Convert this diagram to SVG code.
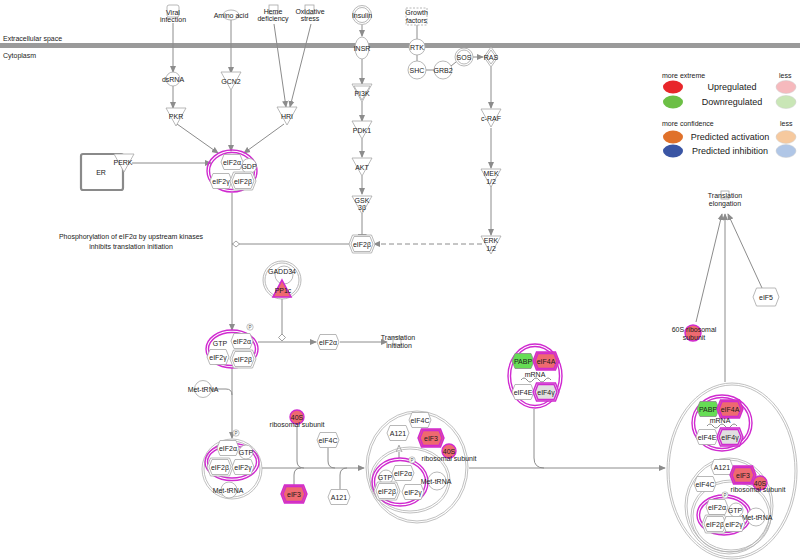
<svg xmlns="http://www.w3.org/2000/svg" xmlns:xlink="http://www.w3.org/1999/xlink" width="800" height="560" viewBox="0 0 800 560">
<style>
.t{font-family:"Liberation Sans",Arial,sans-serif;font-size:7px;fill:#1a1a1a;text-anchor:middle}
.tl{font-family:"Liberation Sans",Arial,sans-serif;font-size:7px;fill:#1a1a1a}
.lg{font-family:"Liberation Sans",Arial,sans-serif;font-size:9px;fill:#1a1a1a;text-anchor:middle}
.lgs{font-family:"Liberation Sans",Arial,sans-serif;font-size:7px;fill:#1a1a1a}
.ln{fill:none;stroke:#8c8c8c;stroke-width:1}
.nd{fill:#fff;stroke:#a6a6a6;stroke-width:0.8}
.ndn{fill:none;stroke:#a6a6a6;stroke-width:0.8}
.cx{fill:none;stroke:#b0b0b0;stroke-width:0.8}
.mg{fill:none;stroke:#d02ad0;stroke-width:1.4}
.up{fill:#ee6a70;stroke:#d02ad0;stroke-width:1.4}
.gr{fill:#e0e0e0;stroke:#d02ad0;stroke-width:1.4}
.dn{fill:#66dd55;stroke:#8a8a8a;stroke-width:0.8}
.p{font-family:"Liberation Sans",Arial,sans-serif;font-size:4.5px;fill:#555;text-anchor:middle}
</style>
<defs>
<path id="hx" d="M-8,-7.5H8L11,0L8,7.5H-8L-11,0Z"/>
<path id="hxo" d="M-9.5,-9H9.5L13,0L9.5,9H-9.5L-13,0Z"/>
<path id="tri" d="M-10,-9H10L0,9Z"/>
<path id="trs" d="M-8,-7H8L0,7Z"/>
<marker id="ar" viewBox="0 0 8 8" refX="7" refY="4" markerWidth="7" markerHeight="7" markerUnits="userSpaceOnUse" orient="auto"><path d="M0,0.5L8,4L0,7.5Z" fill="#8c8c8c"/></marker>
<marker id="tb" viewBox="0 0 2 10" refX="1" refY="5" markerWidth="2" markerHeight="9" markerUnits="userSpaceOnUse" orient="auto"><rect x="0" y="0" width="2" height="10" fill="#8c8c8c"/></marker>
<marker id="oa" viewBox="0 0 8 8" refX="7" refY="4" markerWidth="7" markerHeight="7" markerUnits="userSpaceOnUse" orient="auto"><path d="M0,0.5L8,4L0,7.5Z" fill="#fff" stroke="#8c8c8c" stroke-width="0.8"/></marker>
</defs>
<rect width="800" height="560" fill="#fff"/>

<!-- membrane -->
<rect x="0" y="43" width="800" height="5" fill="#9a9a9a"/>
<text class="tl" x="3" y="40.5">Extracellular space</text>
<text class="tl" x="3" y="58">Cytoplasm</text>

<!-- legend -->
<g id="legend">
<text class="lgs" x="662" y="78">more extreme</text><text class="lgs" x="779" y="78">less</text>
<ellipse cx="673" cy="87" rx="10" ry="6.5" fill="#e8262a"/><text class="lg" x="732" y="90">Upregulated</text><ellipse cx="786" cy="87" rx="10" ry="6.5" fill="#f6b9bd" stroke="#ccc" stroke-width="0.5"/>
<ellipse cx="673" cy="102" rx="10" ry="6.5" fill="#6cbf45"/><text class="lg" x="732" y="105">Downregulated</text><ellipse cx="786" cy="102" rx="10" ry="6.5" fill="#c9e6b6" stroke="#ccc" stroke-width="0.5"/>
<text class="lgs" x="662" y="126">more confidence</text><text class="lgs" x="780" y="126">less</text>
<ellipse cx="673" cy="137" rx="10" ry="6.5" fill="#e0712a"/><text class="lg" x="730" y="140">Predicted activation</text><ellipse cx="786" cy="137" rx="10" ry="6.5" fill="#f6c99e" stroke="#ccc" stroke-width="0.5"/>
<ellipse cx="673" cy="151" rx="10" ry="6.5" fill="#3a55a4"/><text class="lg" x="730" y="154">Predicted inhibition</text><ellipse cx="786" cy="151" rx="10" ry="6.5" fill="#b0c6e6" stroke="#ccc" stroke-width="0.5"/>
</g>

<!-- connectors -->
<g id="connectors">
<path class="ln" d="M173,23V72" marker-end="url(#ar)"/>
<path class="ln" d="M173,86V108" marker-end="url(#ar)"/>
<path class="ln" d="M231,20V73" marker-end="url(#ar)"/>
<path class="ln" d="M231,90V151" marker-end="url(#ar)"/>
<path class="ln" d="M274,24L286,107" marker-end="url(#ar)"/>
<path class="ln" d="M311,24L290,107" marker-end="url(#ar)"/>
<path class="ln" d="M177,124L218,153" marker-end="url(#ar)"/>
<path class="ln" d="M284,124L244,153" marker-end="url(#ar)"/>
<path class="ln" d="M132,163H211" marker-end="url(#ar)"/>
<path class="ln" d="M362,25V36" marker-end="url(#ar)"/>
<path class="ln" d="M362,59V84" marker-end="url(#ar)"/>
<path class="ln" d="M362,102V121" marker-end="url(#ar)"/>
<path class="ln" d="M362,139V157" marker-end="url(#ar)"/>
<path class="ln" d="M362,176V194" marker-end="url(#ar)"/>
<path class="ln" d="M362,214V235" marker-end="url(#tb)"/>
<path class="ln" d="M417,25V39"/>
<path class="ln" d="M417,55V61"/>
<path class="ln" d="M426,70H434"/>
<path class="ln" d="M451,66L456,62"/>
<path class="ln" d="M473,57H483" marker-end="url(#ar)"/>
<path class="ln" d="M491,67V108" marker-end="url(#ar)"/>
<path class="ln" d="M491,128V168" marker-end="url(#ar)"/>
<path class="ln" d="M491,186V235" marker-end="url(#ar)"/>
<path class="ln" d="M482,244H374" stroke-dasharray="5,3" marker-end="url(#ar)"/>
<path class="ln" d="M350,244H232"/>
<path d="M236,241L239.5,244L236,247L232.5,244Z" fill="#fff" stroke="#8c8c8c" stroke-width="0.8"/>
<path class="ln" d="M232,193V330" marker-end="url(#ar)"/>
<path class="ln" d="M258,342H316" marker-end="url(#ar)"/>
<path class="ln" d="M282,299V338"/>
<path d="M282,334L285.5,337.5L282,341L278.5,337.5Z" fill="#fff" stroke="#8c8c8c" stroke-width="0.8"/>
<path class="ln" d="M340,342H387" marker-end="url(#ar)"/>
<path class="ln" d="M232,368V438" marker-end="url(#ar)"/>
<path class="ln" d="M212,389H226Q232,389 232,395"/>
<path class="ln" d="M262,468H364" marker-end="url(#ar)"/>
<path class="ln" d="M297,426V461Q297,468 304,468"/>
<path class="ln" d="M294,485V475Q294,468 301,468"/>
<path class="ln" d="M328,448V461Q328,468 335,468"/>
<path class="ln" d="M340,489V475Q340,468 347,468"/>
<path class="ln" d="M469,468H665" marker-end="url(#ar)"/>
<path class="ln" d="M534,409V458Q534,468 544,468"/>
<path class="ln" d="M725,382V214" marker-end="url(#ar)"/>
<path class="ln" d="M696,322L722,214" marker-end="url(#ar)"/>
<path class="ln" d="M762,288L728,214" marker-end="url(#ar)"/>
<path class="ln" d="M399,458V446" marker-end="url(#oa)"/>
</g>

<!-- top inputs -->
<g id="viral"><rect class="ndn" x="167" y="5" width="12" height="12" rx="2"/><text class="t" x="173" y="15">Viral</text><text class="t" x="173" y="22">infection</text></g>
<g id="amino"><ellipse class="ndn" cx="231" cy="15" rx="8" ry="5"/><text class="t" x="231" y="17.5">Amino acid</text></g>
<g id="heme"><rect class="ndn" x="269" y="5" width="9" height="9"/><text class="t" x="273" y="14">Heme</text><text class="t" x="273" y="21">deficiency</text></g>
<g id="oxid"><rect class="ndn" x="305" y="5" width="9" height="9"/><text class="t" x="310" y="14">Oxidative</text><text class="t" x="310" y="21">stress</text></g>
<g id="insulin"><circle class="nd" cx="362" cy="15" r="9.5"/><circle class="ndn" cx="362" cy="15" r="7.5"/><text class="t" x="362" y="17.5">Insulin</text></g>
<g id="growth"><rect class="nd" x="406" y="8" width="21" height="17" stroke-dasharray="2,1.5"/><text class="t" x="416.5" y="15">Growth</text><text class="t" x="416.5" y="22.5">factors</text></g>

<!-- kinases / signalling -->
<g id="dsRNA"><circle class="nd" cx="173" cy="79" r="7"/><text class="t" x="173" y="81.5">dsRNA</text></g>
<g id="PKR"><use href="#tri" x="176" y="117" class="nd"/><text class="t" x="176" y="119">PKR</text></g>
<g id="GCN2"><use href="#tri" x="231" y="81" class="nd"/><text class="t" x="231" y="83.5">GCN2</text></g>
<g id="HRI"><use href="#tri" x="287" y="116" class="nd"/><text class="t" x="287" y="119">HRI</text></g>
<g id="ER"><rect x="81" y="154" width="42" height="36" rx="2" fill="#fff" stroke="#8a8a8a" stroke-width="2.2"/><text class="t" x="101" y="175">ER</text></g>
<g id="PERK"><use href="#tri" x="124" y="163" class="nd"/><text class="t" x="123" y="165">PERK</text></g>
<g id="INSR"><ellipse class="nd" cx="362" cy="48" rx="7" ry="11"/><text class="t" x="362" y="50.5">INSR</text></g>
<g id="PI3K"><use href="#tri" x="362" y="93" class="nd"/><use href="#trs" x="362" y="93" class="ndn"/><text class="t" x="362" y="95.5">PI3K</text></g>
<g id="PDK1"><use href="#tri" x="362" y="130" class="nd"/><text class="t" x="362" y="132.5">PDK1</text></g>
<g id="AKT"><use href="#tri" x="362" y="167" class="nd"/><text class="t" x="362" y="169.5">AKT</text></g>
<g id="GSK3B"><use href="#tri" x="362" y="205" class="nd"/><text class="t" x="362" y="203">GSK</text><text class="t" x="362" y="210">3β</text></g>
<g id="RTK"><circle class="nd" cx="417" cy="47" r="8"/><text class="t" x="417" y="49.5">RTK</text></g>
<g id="SHC"><circle class="nd" cx="417" cy="70" r="9"/><text class="t" x="417" y="72.5">SHC</text></g>
<g id="GRB2"><circle class="nd" cx="443" cy="70" r="9"/><text class="t" x="443" y="72.5">GRB2</text></g>
<g id="SOS"><circle class="nd" cx="464" cy="57" r="9"/><circle class="ndn" cx="464" cy="57" r="7"/><text class="t" x="464" y="59.5">SOS</text></g>
<g id="RAS"><path class="nd" d="M491,47L498,57L491,67L484,57Z"/><path class="ndn" d="M491,50L496,57L491,64L486,57Z"/><text class="t" x="491" y="59.5">RAS</text></g>
<g id="cRAF"><use href="#tri" x="491" y="118" class="nd"/><text class="t" x="491" y="120.5">c-RAF</text></g>
<g id="MEK"><use href="#tri" x="491" y="178" class="nd"/><text class="t" x="491" y="176">MEK</text><text class="t" x="491" y="183.5">1/2</text></g>
<g id="ERK"><use href="#tri" x="491" y="245" class="nd"/><text class="t" x="491" y="243">ERK</text><text class="t" x="491" y="250.5">1/2</text></g>
<g id="eIF2B"><use href="#hxo" x="362" y="244" class="nd"/><use href="#hx" x="362" y="244" class="ndn"/><text class="t" x="362" y="246.5">eIF2β</text></g>

<text class="t" x="131" y="239">Phosphorylation of eIF2α by upstream kinases</text>
<text class="t" x="131" y="249">inhibits translation initiation</text>

<!-- eIF2-GDP complex -->
<g id="eIF2GDP">
<ellipse class="mg" cx="232" cy="171" rx="25" ry="21"/><ellipse class="mg" cx="232" cy="171" rx="22.5" ry="18.5"/>
<circle class="nd" cx="249" cy="166" r="7.5"/><text class="t" x="249" y="168.5">GDP</text>
<use href="#hx" x="232" y="162" class="nd"/><text class="t" x="232" y="164.5">eIF2α</text>
<use href="#hx" x="221" y="181" class="nd"/><text class="t" x="221" y="183.5">eIF2γ</text>
<use href="#hxo" x="243" y="181" class="nd"/><use href="#hx" x="243" y="181" class="ndn"/><text class="t" x="243" y="183.5">eIF2β</text>
</g>

<!-- GADD34/PP1c -->
<g id="GADD34">
<circle class="nd" cx="282" cy="280" r="19"/><circle class="ndn" cx="282" cy="280" r="17"/>
<circle class="ndn" cx="284" cy="275" r="9"/>
<text class="t" x="282" y="274">GADD34</text>
<path d="M282,280L291,297H273Z" fill="#ee6a70" stroke="#d02ad0" stroke-width="1.6"/>
<text class="t" x="283" y="293">PP1c</text>
</g>

<g id="eIF2A"><use href="#hx" x="328" y="342" class="nd"/><text class="t" x="328" y="344.5">eIF2α</text></g>
<g id="TI"><rect class="ndn" x="393" y="337" width="8" height="8"/><text class="t" x="398" y="340">Translation</text><text class="t" x="399" y="347.5">initiation</text></g>

<!-- eIF2-GTP complex -->
<g id="eIF2GTP">
<ellipse class="mg" cx="232" cy="349" rx="26" ry="19"/><ellipse class="mg" cx="232" cy="349" rx="23.5" ry="16.5"/>
<text class="t" x="220" y="345.5">GTP</text>
<use href="#hx" x="242" y="341" class="nd"/><text class="t" x="242" y="343.5">eIF2α</text>
<use href="#hx" x="218" y="357" class="nd"/><text class="t" x="218" y="359.5">eIF2γ</text>
<use href="#hxo" x="243" y="359" class="nd"/><use href="#hx" x="243" y="359" class="ndn"/><text class="t" x="243" y="361.5">eIF2β</text>
<circle cx="250" cy="327" r="3.2" fill="#fff" stroke="#999" stroke-width="0.6"/><text class="p" x="250" y="328.7">P</text>
</g>

<g id="MettRNA"><circle class="nd" cx="203" cy="389" r="8.5"/><text class="t" x="203" y="391.5">Met-tRNA</text></g>

<!-- ternary complex -->
<g id="ternary">
<circle class="cx" cx="232" cy="469" r="30"/><circle class="cx" cx="232" cy="469" r="28"/>
<ellipse class="mg" cx="232" cy="462" rx="27" ry="18.5"/><ellipse class="mg" cx="232" cy="462" rx="24.5" ry="16"/>
<circle class="nd" cx="229" cy="490" r="8"/><text class="t" x="228" y="492.5">Met-tRNA</text>
<circle class="nd" cx="246" cy="452" r="7"/><text class="t" x="246" y="454.5">GTP</text>
<use href="#hx" x="228" y="448" class="nd"/><text class="t" x="228" y="450.5">eIF2α</text>
<use href="#hxo" x="220" y="467" class="nd"/><use href="#hx" x="220" y="467" class="ndn"/><text class="t" x="220" y="469.5">eIF2β</text>
<use href="#hx" x="243" y="467" class="nd"/><text class="t" x="243" y="469.5">eIF2γ</text>
<circle cx="236" cy="433" r="3.2" fill="#fff" stroke="#999" stroke-width="0.6"/><text class="p" x="236" y="434.7">P</text>
</g>

<g id="r40S"><circle class="up" cx="297" cy="417" r="7"/><text class="t" x="297" y="419.5">40S</text><text class="t" x="297" y="427">ribosomal subunit</text></g>
<g id="eIF4C"><use href="#hx" x="328" y="440" class="nd"/><text class="t" x="328" y="442.5">eIF4C</text></g>
<g id="eIF3"><use href="#hxo" x="294" y="494" class="up"/><use href="#hx" x="294" y="494" class="mg"/><text class="t" x="294" y="496.5">eIF3</text></g>
<g id="A121"><use href="#hx" x="339" y="497" class="nd"/><text class="t" x="339" y="499.5">A121</text></g>

<!-- 43S complex -->
<g id="c43S">
<ellipse class="cx" cx="417" cy="467" rx="51" ry="56"/><ellipse class="cx" cx="417" cy="467" rx="49" ry="54"/>
<ellipse class="cx" cx="410" cy="480" rx="40" ry="33"/><ellipse class="cx" cx="410" cy="480" rx="38" ry="31"/>
<ellipse class="mg" cx="400" cy="482" rx="28" ry="24"/><ellipse class="mg" cx="400" cy="482" rx="25.5" ry="21.5"/>
<use href="#hx" x="420" y="420" class="nd"/><text class="t" x="420" y="422.5">eIF4C</text>
<use href="#hx" x="398" y="433" class="nd"/><text class="t" x="398" y="435.5">A121</text>
<use href="#hxo" x="431" y="438" class="up"/><use href="#hx" x="431" y="438" class="mg"/><text class="t" x="431" y="440.5">eIF3</text>
<circle class="up" cx="449" cy="451" r="7"/><text class="t" x="449" y="453.5">40S</text><text class="t" x="449" y="461">ribosomal subunit</text>
<circle class="nd" cx="437" cy="481" r="9"/><text class="t" x="436" y="483.5">Met-tRNA</text>
<circle class="nd" cx="386" cy="477" r="7"/><text class="t" x="385" y="479.5">GTP</text>
<use href="#hx" x="403" y="473" class="nd"/><text class="t" x="403" y="475.5">eIF2α</text>
<use href="#hxo" x="387" y="491" class="nd"/><use href="#hx" x="387" y="491" class="ndn"/><text class="t" x="387" y="493.5">eIF2β</text>
<use href="#hx" x="413" y="492" class="nd"/><text class="t" x="413" y="494.5">eIF2γ</text>
<circle cx="412" cy="460" r="3.2" fill="#fff" stroke="#999" stroke-width="0.6"/><text class="p" x="412" y="461.7">P</text>
</g>

<!-- eIF4F/mRNA complex -->
<g id="c4F">
<ellipse class="mg" cx="535" cy="376" rx="27" ry="32"/><ellipse class="mg" cx="535" cy="376" rx="24.5" ry="29.5"/>
<path class="ln" d="M521,380q3,-4 6,0t6,0t6,0t6,0t6,0" stroke="#aaa"/>
<use href="#hx" x="523" y="361" class="dn"/><text class="t" x="523" y="363.5">PABP</text>
<use href="#hxo" x="546" y="361" class="up"/><use href="#hx" x="546" y="361" class="mg"/><text class="t" x="546" y="363.5">eIF4A</text>
<text class="t" x="535" y="377">mRNA</text>
<use href="#hx" x="523" y="392" class="nd"/><text class="t" x="523" y="394.5">eIF4E</text>
<use href="#hxo" x="546" y="392" class="gr"/><use href="#hx" x="546" y="392" class="mg"/><text class="t" x="546" y="394.5">eIF4γ</text>
</g>

<!-- 48S complex -->
<g id="c48S">
<ellipse class="cx" cx="732" cy="471" rx="65" ry="88"/><ellipse class="cx" cx="732" cy="471" rx="63" ry="86"/>
<ellipse class="mg" cx="722" cy="423" rx="30" ry="28"/><ellipse class="mg" cx="722" cy="423" rx="27.5" ry="25.5"/>
<path class="ln" d="M707,426q3,-4 6,0t6,0t6,0t6,0t6,0" stroke="#aaa"/>
<use href="#hx" x="708" y="409" class="dn"/><text class="t" x="708" y="411.5">PABP</text>
<use href="#hxo" x="730" y="409" class="up"/><use href="#hx" x="730" y="409" class="mg"/><text class="t" x="730" y="411.5">eIF4A</text>
<text class="t" x="720" y="423">mRNA</text>
<use href="#hx" x="707" y="437" class="nd"/><text class="t" x="707" y="439.5">eIF4E</text>
<use href="#hxo" x="730" y="437" class="gr"/><use href="#hx" x="730" y="437" class="mg"/><text class="t" x="730" y="439.5">eIF4γ</text>
<ellipse class="cx" cx="729" cy="506" rx="44" ry="48"/><ellipse class="cx" cx="729" cy="506" rx="42" ry="46"/>
<ellipse class="cx" cx="731" cy="516" rx="40" ry="36"/><ellipse class="cx" cx="731" cy="516" rx="38" ry="34"/>
<ellipse class="mg" cx="724" cy="515" rx="27" ry="20"/><ellipse class="mg" cx="724" cy="515" rx="24.5" ry="17.5"/>
<use href="#hx" x="722" y="467" class="nd"/><text class="t" x="722" y="469.5">A121</text>
<use href="#hxo" x="743" y="475" class="up"/><use href="#hx" x="743" y="475" class="mg"/><text class="t" x="743" y="477.5">eIF3</text>
<circle class="up" cx="760" cy="483" r="7"/><text class="t" x="760" y="485.5">40S</text><text class="t" x="758" y="492">ribosomal subunit</text>
<use href="#hx" x="705" y="484" class="nd"/><text class="t" x="705" y="486.5">eIF4C</text>
<circle cx="725" cy="495" r="3.2" fill="#fff" stroke="#999" stroke-width="0.6"/><text class="p" x="725" y="496.7">P</text>
<circle class="nd" cx="756" cy="517" r="9"/><text class="t" x="757" y="519.5">Met-tRNA</text>
<use href="#hx" x="717" y="507" class="nd"/><text class="t" x="717" y="509.5">eIF2α</text>
<circle class="nd" cx="736" cy="510" r="7"/><text class="t" x="735" y="512.5">GTP</text>
<use href="#hxo" x="715" y="524" class="nd"/><use href="#hx" x="715" y="524" class="ndn"/><text class="t" x="715" y="526.5">eIF2β</text>
<use href="#hx" x="734" y="524" class="nd"/><text class="t" x="734" y="526.5">eIF2γ</text>
</g>

<g id="TE"><rect class="ndn" x="721" y="191" width="8" height="8"/><text class="t" x="725" y="198">Translation</text><text class="t" x="725" y="205.5">elongation</text></g>
<g id="eIF5"><use href="#hxo" x="766" y="297" class="nd"/><text class="t" x="766" y="299.5">eIF5</text></g>
<g id="r60S"><circle class="up" cx="693" cy="333" r="8"/><text class="t" x="694" y="332">60S ribosomal</text><text class="t" x="694" y="339.5">subunit</text></g>
</svg>
